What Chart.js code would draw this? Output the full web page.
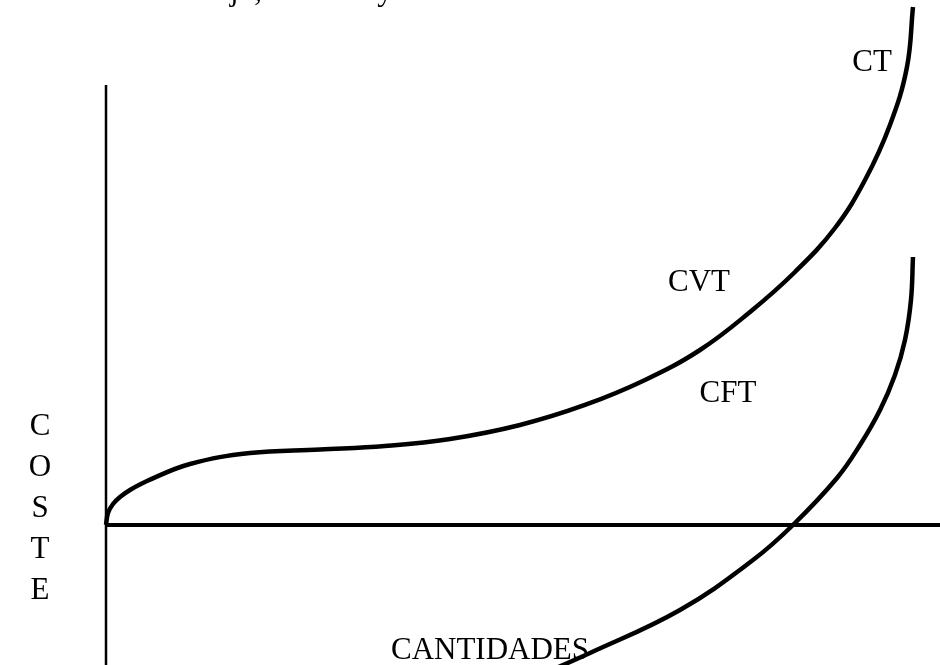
<!DOCTYPE html>
<html>
<head>
<meta charset="utf-8">
<script src="https://cdn.jsdelivr.net/npm/chart.js@4/dist/chart.umd.min.js"></script>
<style>
    html, body { margin: 0; padding: 0; background: #fff; }
    #wrap { width: 940px; height: 665px; position: relative; }
</style>
</head>
<body>
<div id="wrap"><canvas id="myChart"></canvas></div>
<script>
// Curva CVT (la de arriba, etiquetada CT en el dibujo)
var cvtCantidad = [0, 0.024, 0.084, 0.168, 0.288, 0.492, 1.007, 1.727, 2.566, 3.345, 4.125, 4.964, 5.743, 6.463, 7.122, 7.722, 8.261, 8.741, 9.101, 9.400, 9.604, 9.676];
var cvtCoste    = [0, 0.229, 0.400, 0.533, 0.667, 0.838, 1.162, 1.371, 1.438, 1.505, 1.638, 1.905, 2.286, 2.762, 3.333, 4.057, 4.819, 5.657, 6.571, 7.619, 8.724, 9.867];

// Curva CFT (la de abajo, cruza el eje)
var cftCantidad = [5.204, 5.803, 6.882, 7.758, 8.237, 8.765, 9.041, 9.281, 9.460, 9.580, 9.652, 9.676];
var cftCoste    = [-2.857, -2.438, -1.619, -0.667, 0, 0.895, 1.524, 2.190, 2.857, 3.524, 4.286, 5.105];

// Ejes
var ejeXRango = [0, 10];
var ejeYRango = [-2.67, 8.38];

// Etiquetas del dibujo (texto, cantidad, coste)
var etiquetas = ['CT', 'CVT', 'CFT', 'CANTIDADES'];
var etiquetaQ = [9.185, 7.110, 7.458, 4.604];
var etiquetaC = [8.800, 4.610, 2.495, -2.400];

// Letras del eje vertical
var letrasCoste = ['C', 'O', 'S', 'T', 'E'];
var letrasQ = -0.791;
var letrasC = [1.867, 1.086, 0.305, -0.476, -1.257];

var titulo = 'Curvas de costes fijo, variable y total';

function toPoints(xs, ys) {
    return xs.map(function(x, i) { return { x: x, y: ys[i] }; });
}

var FONT = '31px "Liberation Serif", "Times New Roman", serif';

// Plugin to draw the texts on top of the curves
var textPlugin = {
    id: 'textos',
    afterDraw: function(chart) {
        var ctx = chart.ctx;
        var sx = chart.scales.x;
        var sy = chart.scales.y;
        ctx.save();
        ctx.fillStyle = '#000';
        ctx.font = FONT;
        ctx.textAlign = 'center';
        ctx.textBaseline = 'middle';
        etiquetas.forEach(function(t, i) {
            ctx.fillText(t, sx.getPixelForValue(etiquetaQ[i]), sy.getPixelForValue(etiquetaC[i]));
        });
        letrasCoste.forEach(function(t, i) {
            ctx.fillText(t, sx.getPixelForValue(letrasQ), sy.getPixelForValue(letrasC[i]));
        });
        // title cut off at the top of the page
        ctx.textAlign = 'left';
        ctx.textBaseline = 'alphabetic';
        ctx.fillText(titulo, -5, 0);
        ctx.restore();
    }
};

var lineStyle = {
    showLine: true,
    borderColor: '#000',
    pointRadius: 0,
    fill: false
};

var ctx = document.getElementById('myChart').getContext('2d');
var myChart = new Chart(ctx, {
    type: 'scatter',
    data: {
        datasets: [
            Object.assign({ label: 'eje x', data: toPoints(ejeXRango, [0, 0]), borderWidth: 4 }, lineStyle),
            Object.assign({ label: 'eje y', data: toPoints([0, 0], ejeYRango), borderWidth: 2.5 }, lineStyle),
            Object.assign({ label: 'CVT', data: toPoints(cvtCantidad, cvtCoste), borderWidth: 4.5, tension: 0.4 }, lineStyle),
            Object.assign({ label: 'CFT', data: toPoints(cftCantidad, cftCoste), borderWidth: 4.5, tension: 0.4 }, lineStyle)
        ]
    },
    options: {
        responsive: true,
        maintainAspectRatio: false,
        animation: false,
        layout: { padding: 0 },
        scales: {
            x: { type: 'linear', min: -1.271, max: 10, display: false },
            y: { type: 'linear', min: -2.667, max: 10, display: false }
        },
        plugins: {
            legend: { display: false },
            tooltip: { enabled: false }
        }
    },
    plugins: [textPlugin]
});
</script>
</body>
</html>
